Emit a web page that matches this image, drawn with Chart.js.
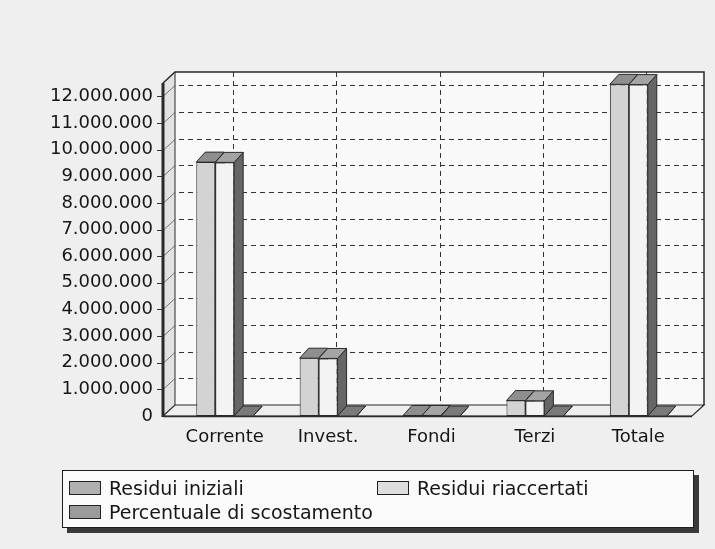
<!DOCTYPE html>
<html>
<head>
<meta charset="utf-8">
<script src="https://cdn.jsdelivr.net/npm/chart.js@4.4.1/dist/chart.umd.min.js"></script>
<style>
  html, body { margin: 0; padding: 0; background: #efefef; }
  #wrap { position: relative; width: 715px; height: 549px; }
  #c { position: absolute; left: 0; top: 0; }
  #legend {
    position: absolute; left: 62px; top: 470px; width: 630px; height: 56px;
    background: #fbfbfb; border: 1px solid #1e1e1e; box-shadow: 5px 5px 0 #3a3a3a;
    font-family: "DejaVu Sans", sans-serif; font-size: 19px; color: #161616;
  }
  .item { position: absolute; display: flex; align-items: center; white-space: nowrap; }
  .sw { width: 32px; height: 14px; border: 1px solid #222; margin-right: 8px; box-sizing: border-box; }
</style>
</head>
<body>
<div id="wrap">
  <canvas id="c" width="715" height="549"></canvas>
  <div id="legend"></div>
</div>
<script>
// ---- data ----
const categories = ["Corrente", "Invest.", "Fondi", "Terzi", "Totale"];
const residuiIniziali = [9530000, 2170000, 20000, 580000, 12450000];
const residuiRiaccertati = [9520000, 2160000, 20000, 570000, 12440000];
const percentualeScostamento = [0, 0, 0, 0, 0];
const seriesLabels = ["Residui iniziali", "Residui riaccertati", "Percentuale di scostamento"];
const yTickValues = [0,1000000,2000000,3000000,4000000,5000000,6000000,7000000,8000000,9000000,10000000,11000000,12000000];

// ---- styles ----
const frontColors = ["#d3d3d3", "#f3f3f3", "#8a8a8a"];
const topColors = ["#8e8e8e", "#a4a4a4", "#7a7a7a"];
const sideColors = ["#6a6a6a", "#666666", "#5a5a5a"];
const swatchColors = ["#b0b0b0", "#dedede", "#9a9a9a"];
const DX = 12, DY = 11;   // wall depth
const BX = 9, BY = 10;    // bar depth

function fmt(v) {
  return v.toString().replace(/\B(?=(\d{3})+(?!\d))/g, ".");
}

const frame3d = {
  id: "frame3d",
  beforeDatasetsDraw(chart) {
    const ctx = chart.ctx;
    const a = chart.chartArea;
    const ys = chart.scales.y, xs = chart.scales.x;
    const FL = a.left - 10, FR = a.right + 2, T = a.top, B = a.bottom;
    ctx.save();
    // back wall
    ctx.fillStyle = "#f9f9f9";
    ctx.fillRect(FL + DX, T - DY, FR - FL, B - T);
    // left wall
    ctx.fillStyle = "#e2e2e2";
    ctx.beginPath();
    ctx.moveTo(FL, B); ctx.lineTo(FL, T); ctx.lineTo(FL + DX, T - DY); ctx.lineTo(FL + DX, B - DY); ctx.closePath();
    ctx.fill();
    // floor
    ctx.fillStyle = "#eeeeee";
    ctx.beginPath();
    ctx.moveTo(FL, B); ctx.lineTo(FR, B); ctx.lineTo(FR + DX, B - DY); ctx.lineTo(FL + DX, B - DY); ctx.closePath();
    ctx.fill();
    ctx.strokeStyle = "#2a2a2a"; ctx.lineWidth = 1.2;
    ctx.stroke();
    // horizontal dashed grid on back wall
    ctx.lineWidth = 1;
    ctx.strokeStyle = "#333";
    ys.ticks.forEach(t => {
      if (t.value <= 0) return;
      const y = Math.round(ys.getPixelForValue(t.value)) + 0.5;
      ctx.setLineDash([5, 4]);
      ctx.beginPath(); ctx.moveTo(FL + DX + 4, y - DY); ctx.lineTo(FR + DX, y - DY); ctx.stroke();
      ctx.setLineDash([]);
      ctx.strokeStyle = "#777";
      ctx.beginPath(); ctx.moveTo(FL, y); ctx.lineTo(FL + DX, y - DY); ctx.stroke();
      ctx.strokeStyle = "#333";
      // front tick mark
      ctx.beginPath(); ctx.moveTo(FL - 6, y); ctx.lineTo(FL, y); ctx.stroke();
    });
    // vertical dashed grid on back wall
    ctx.setLineDash([5, 4]);
    categories.forEach((c, i) => {
      const x = Math.round(xs.getPixelForValue(i)) + 8.5;
      ctx.beginPath(); ctx.moveTo(x, T - DY); ctx.lineTo(x, B - DY); ctx.stroke();
    });
    ctx.setLineDash([]);
    // back wall border
    ctx.strokeStyle = "#2a2a2a"; ctx.lineWidth = 1.5;
    ctx.beginPath();
    ctx.moveTo(FL, T); ctx.lineTo(FL + DX, T - DY); ctx.lineTo(FR + DX, T - DY); ctx.lineTo(FR + DX, B - DY);
    ctx.stroke();
    ctx.beginPath(); ctx.moveTo(FL + DX, T - DY); ctx.lineTo(FL + DX, B - DY); ctx.lineWidth = 1; ctx.stroke();
    // front left axis
    ctx.lineWidth = 3;
    ctx.beginPath(); ctx.moveTo(FL, T); ctx.lineTo(FL, B + 1); ctx.stroke();
    // front bottom
    ctx.lineWidth = 1.5;
    ctx.beginPath(); ctx.moveTo(FL, B + 0.5); ctx.lineTo(FR, B + 0.5); ctx.stroke();

    // bar tops and sides
    ctx.lineWidth = 1; ctx.strokeStyle = "#2a2a2a";
    for (let i = 0; i < categories.length; i++) {
      chart.data.datasets.forEach((ds, d) => {
        const el = chart.getDatasetMeta(d).data[i];
        const l = el.x - el.width / 2, r = el.x + el.width / 2, top = el.y, base = el.base;
        // side
        ctx.fillStyle = sideColors[d];
        ctx.beginPath();
        ctx.moveTo(r, top); ctx.lineTo(r + BX, top - BY); ctx.lineTo(r + BX, base - BY); ctx.lineTo(r, base); ctx.closePath();
        ctx.fill(); ctx.stroke();
        // top
        ctx.fillStyle = topColors[d];
        ctx.beginPath();
        ctx.moveTo(l, top); ctx.lineTo(l + BX, top - BY); ctx.lineTo(r + BX, top - BY); ctx.lineTo(r, top); ctx.closePath();
        ctx.fill(); ctx.stroke();
      });
    }
    ctx.restore();
  }
};

const chart = new Chart(document.getElementById("c"), {
  type: "bar",
  data: {
    labels: categories,
    datasets: [
      { label: seriesLabels[0], data: residuiIniziali, backgroundColor: frontColors[0], borderColor: "#2a2a2a", borderWidth: 1, borderSkipped: false },
      { label: seriesLabels[1], data: residuiRiaccertati, backgroundColor: frontColors[1], borderColor: "#2a2a2a", borderWidth: 1, borderSkipped: false },
      { label: seriesLabels[2], data: percentualeScostamento, backgroundColor: frontColors[2], borderColor: "#2a2a2a", borderWidth: 0, borderSkipped: false }
    ]
  },
  options: {
    responsive: false,
    animation: false,
    events: [],
    layout: { padding: { top: 83, right: 25, left: 0, bottom: 0 } },
    datasets: { bar: { categoryPercentage: 0.55, barPercentage: 1.0 } },
    plugins: { legend: { display: false }, tooltip: { enabled: false } },
    scales: {
      x: {
        grid: { display: false, drawTicks: false },
        border: { display: false },
        ticks: { padding: 11, color: "#161616", font: { family: "DejaVu Sans", size: 18 } },
        afterFit(s) { s.height = 133; }
      },
      y: {
        min: 0, max: 12500000,
        grid: { display: false, drawTicks: false },
        border: { display: false },
        afterBuildTicks(s) { s.ticks = yTickValues.map(v => ({ value: v })); },
        ticks: { padding: 20, color: "#161616", font: { family: "DejaVu Sans", size: 18 }, callback: v => fmt(v) },
        afterFit(s) { s.width = 173; }
      }
    }
  },
  plugins: [frame3d]
});

// HTML legend
const legend = document.getElementById("legend");
const pos = [[6, 6], [314, 6], [6, 30]];
chart.data.datasets.forEach((ds, i) => {
  const it = document.createElement("div");
  it.className = "item";
  it.style.left = pos[i][0] + "px";
  it.style.top = pos[i][1] + "px";
  const sw = document.createElement("span");
  sw.className = "sw";
  sw.style.background = swatchColors[i];
  const tx = document.createElement("span");
  tx.textContent = ds.label;
  it.appendChild(sw); it.appendChild(tx);
  legend.appendChild(it);
});
</script>
</body>
</html>
